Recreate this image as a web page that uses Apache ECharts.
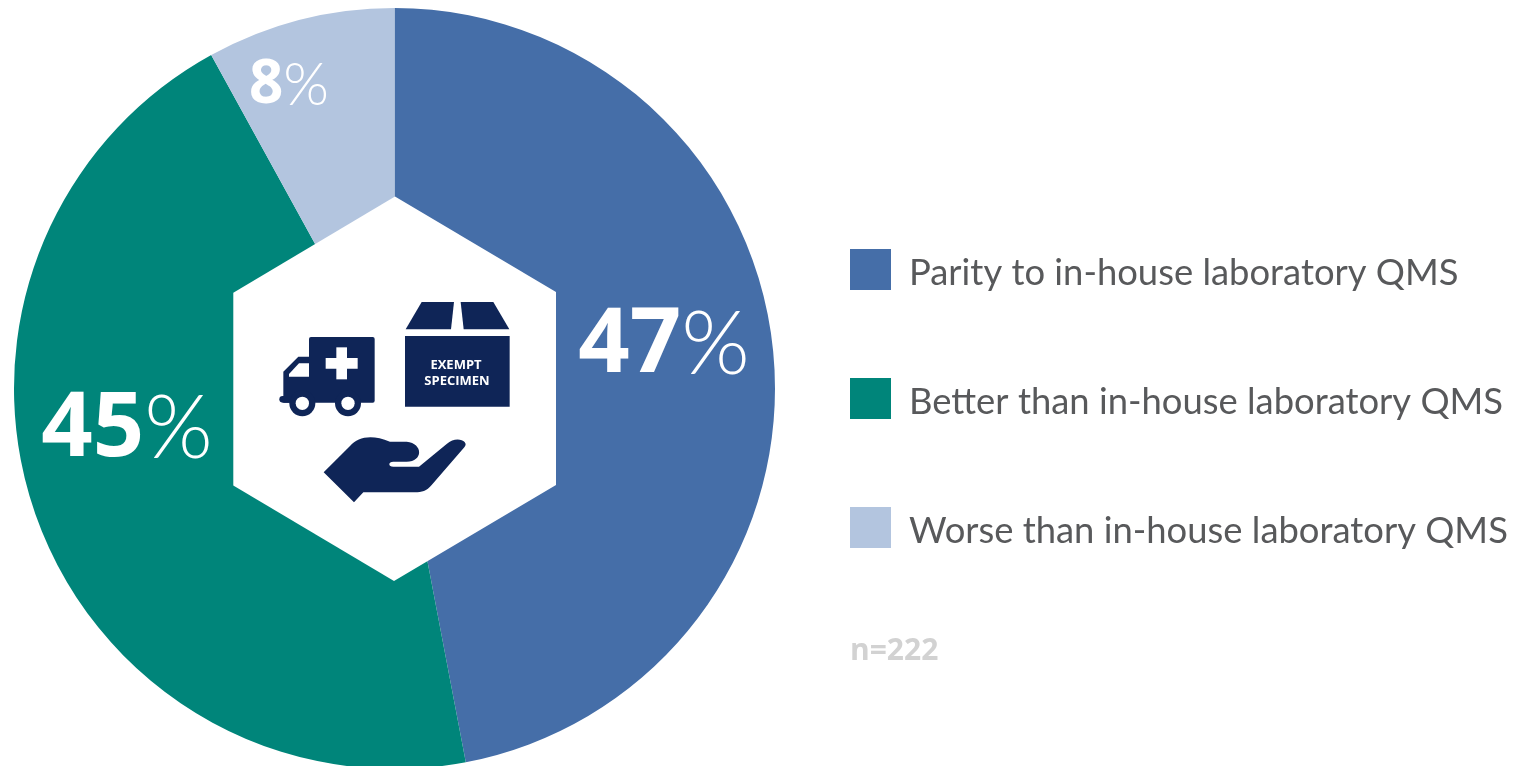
<!DOCTYPE html>
<html>
<head>
<meta charset="utf-8">
<style>html,body{margin:0;padding:0;background:#fff;overflow:hidden}#chart{width:1514px;height:766px}</style>
<script src="https://cdn.jsdelivr.net/npm/echarts@6/dist/echarts.min.js"></script>
</head>
<body>
<div id="chart"></div>
<script>
// Survey responses: how the respondents rate their quality management system
const categories = ['Parity to in-house laboratory QMS', 'Better than in-house laboratory QMS', 'Worse than in-house laboratory QMS'];
const shares = [47, 45, 8];
const sliceColors = ['#456ea8', '#00857a', '#b3c5df'];
const sampleNote = 'n=222';
const boxCaption = ['EXEMPT', 'SPECIMEN'];

// Label centres and type sizes per slice
const labelCentres = [[664, 346], [127, 430], [289, 86]];
const labelDigitSizes = [90, 90, 60];

const NAVY = '#0f2557';
const chart = echarts.init(document.getElementById('chart'), null, {renderer: 'canvas'});

// Open-hand outline, registered as a reusable shape
const handOutline = 'M281 847 L360 768 C385 740 425 732 480 755 L530 755 C580 760 580 815 530 815 L490 815 C474 815 474 830 490 830 L567 830 L650 762 C680 735 720 755 703 772 L605 885 C590 903 575 907 555 907 L400 907 L372 937 Z';
echarts.graphic.registerShape('openHand', echarts.graphic.extendPath(handOutline, {}));

// Centre emblem shapes are authored at 3x and scaled into place
const iconUnit = {x: 230, y: 190, scaleX: 1 / 3, scaleY: 1 / 3};
function iconPoly(points, fill) {
  return Object.assign({type: 'polygon', silent: true, shape: {points}, style: {fill}}, iconUnit);
}
function iconCircle(cx, cy, r, fill) {
  return Object.assign({type: 'circle', silent: true, shape: {cx, cy, r}, style: {fill}}, iconUnit);
}
function iconRect(x, y, width, height, fill, r) {
  return Object.assign({type: 'rect', silent: true, shape: {x, y, width, height, r: r || 0}, style: {fill}}, iconUnit);
}

const emblem = [
  {type: 'polygon', silent: true,
   shape: {points: [[395, 196.5], [556, 292], [556, 485], [394, 581], [233.3, 485.5], [233.3, 292.7]]},
   style: {fill: '#fff'}},
  // box flaps and body
  iconPoly([[575, 336], [672, 336], [663, 418], [527, 418]], NAVY),
  iconPoly([[692, 336], [790, 336], [838, 418], [701, 418]], NAVY),
  iconRect(525, 438, 314, 212, NAVY),
  // truck
  iconRect(237, 441, 197, 197, NAVY, 6),
  iconPoly([[240, 500], [205, 500], [160, 545], [160, 638], [240, 638]], NAVY),
  iconRect(148, 618, 40, 20, NAVY, 10),
  iconRect(319, 472, 32, 96, '#fff'),
  iconRect(287, 504, 96, 32, '#fff'),
  iconPoly([[237, 520], [207, 520], [177, 552], [177, 560], [237, 560]], '#fff'),
  iconCircle(217, 640, 39, NAVY),
  iconCircle(354, 640, 39, NAVY),
  iconCircle(217, 640, 20, '#fff'),
  iconCircle(354, 640, 20, '#fff'),
  // open hand
  Object.assign({type: 'openHand', silent: true, shape: {}, style: {fill: NAVY}}, iconUnit),
  {type: 'text', silent: true, x: 456, y: 365,
   style: {text: boxCaption[0], fill: '#fff', font: '700 13px "Open Sans"', align: 'center', verticalAlign: 'middle'}},
  {type: 'text', silent: true, x: 457, y: 381,
   style: {text: boxCaption[1], fill: '#fff', font: '700 13px "Open Sans"', align: 'center', verticalAlign: 'middle'}},
  {type: 'text', silent: true, x: 850, y: 651,
   style: {text: sampleNote, fill: '#d2d2d2', font: '700 30px "Open Sans"', align: 'left', verticalAlign: 'middle'}}
].map(el => Object.assign({z: 10}, el));

chart.setOption({
  animation: false,
  backgroundColor: '#fff',
  legend: {
    orient: 'vertical', left: 845, top: 244,
    itemWidth: 41, itemHeight: 41, itemGap: 86.5,
    icon: 'rect', selectedMode: false,
    data: categories,
    formatter: name => `{t|${name}}`,
    textStyle: {
      rich: {t: {color: '#58595b', fontFamily: 'Lato', fontWeight: 400, fontSize: 36.4, padding: [8, 0, 0, 13]}}
    }
  },
  graphic: emblem,
  series: [{
    type: 'pie', silent: true,
    center: [394.5, 388.5], radius: [100, 380.5],
    startAngle: 90, clockwise: true, avoidLabelOverlap: false,
    label: {
      show: true, position: 'inside',
      formatter: p => `{d${p.dataIndex}|${p.value}}{p${p.dataIndex}|%}`,
      rich: Object.fromEntries(labelDigitSizes.flatMap((s, i) => [
        ['d' + i, {fontFamily: 'Open Sans', fontWeight: 700, fontSize: s, color: '#fff'}],
        ['p' + i, {fontFamily: 'Lato', fontWeight: 300, fontSize: s * 88 / 90, color: '#fff'}]
      ]))
    },
    labelLine: {show: false},
    labelLayout: p => ({x: labelCentres[p.dataIndex][0], y: labelCentres[p.dataIndex][1], align: 'center', verticalAlign: 'middle'}),
    data: categories.map((name, i) => ({name, value: shares[i], itemStyle: {color: sliceColors[i]}}))
  }]
});
</script>
</body>
</html>
